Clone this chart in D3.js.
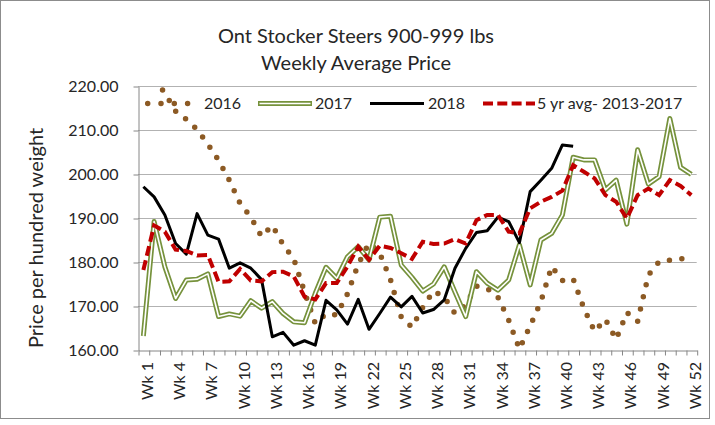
<!DOCTYPE html>
<html>
<head>
<meta charset="utf-8">
<script src="https://cdn.jsdelivr.net/npm/d3@7"></script>
<style>
  body { margin: 0; background: #fff; }
  text { font-family: Lato, "Open Sans", sans-serif; fill: #262626; }
</style>
</head>
<body>
<div id="chart"></div>
<script>

var weeks = ["Wk 1","Wk 2","Wk 3","Wk 4","Wk 5","Wk 6","Wk 7","Wk 8","Wk 9","Wk 10",
	"Wk 11","Wk 12","Wk 13","Wk 14","Wk 15","Wk 16","Wk 17","Wk 18","Wk 19","Wk 20",
	"Wk 21","Wk 22","Wk 23","Wk 24","Wk 25","Wk 26","Wk 27","Wk 28","Wk 29","Wk 30",
	"Wk 31","Wk 32","Wk 33","Wk 34","Wk 35","Wk 36","Wk 37","Wk 38","Wk 39","Wk 40",
	"Wk 41","Wk 42","Wk 43","Wk 44","Wk 45","Wk 46","Wk 47","Wk 48","Wk 49","Wk 50",
	"Wk 51","Wk 52"];

var s2016 = [222.0, 221.7, 218.4, 214.3, 212.4, 210.1, 206.8, 203.1, 198.6, 193.3,
	190.2, 185.8, 188.3, 184.0, 180.7, 173.2, 166.0, 168.2, 168.0, 172.8,
	179.5, 184.3, 182.0, 176.0, 167.5, 165.2, 169.7, 173.4, 172.0, 168.3,
	170.3, 174.5, 174.0, 172.0, 166.8, 160.2, 165.5, 171.0, 179.0, 175.8,
	176.2, 169.5, 164.2, 167.0, 162.4, 168.5, 166.5, 177.0, 180.1, 180.4,
	180.7, 181.0];

var s2017 = [163.2, 189.2, 178.9, 171.7, 175.9, 176.1, 177.3, 167.6, 168.2, 167.7,
	171.2, 169.5, 171.0, 168.3, 166.4, 166.2, 172.9, 178.8, 176.3, 181.2,
	183.5, 180.5, 190.2, 190.4, 179.3, 176.5, 173.4, 175.0, 178.9, 173.2,
	167.6, 177.8, 175.2, 173.6, 175.9, 183.9, 174.8, 185.0, 186.5, 190.7,
	203.8, 203.2, 203.2, 196.4, 198.6, 188.6, 205.5, 197.7, 199.4, 212.6,
	201.5, 199.9];

var s2018 = [197.1, 194.8, 190.7, 184.2, 181.8, 191.0, 186.1, 185.2, 178.6, 179.8,
	178.6, 176.0, 163.0, 164.0, 161.1, 162.1, 161.1, 171.3, 169.1, 165.9,
	171.5, 164.7, 168.3, 172.0, 169.8, 172.2, 168.4, 169.2, 171.4, 178.6,
	183.1, 186.7, 187.1, 190.2, 189.2, 184.4, 196.0, 198.6, 201.3, 206.6,
	206.3];

var avg5 = [178.2, 188.3, 186.9, 182.8, 182.5, 181.5, 181.6, 175.5, 175.6, 178.4,
	175.8, 175.6, 177.7, 177.8, 176.7, 172.1, 171.5, 175.2, 175.2, 179.0,
	183.5, 180.5, 183.7, 183.2, 182.0, 180.7, 184.6, 184.1, 184.2, 185.2,
	184.2, 189.5, 190.7, 190.7, 186.9, 186.5, 192.2, 193.7, 194.8, 196.2,
	202.0, 200.5, 199.0, 195.2, 193.7, 189.9, 195.2, 196.7, 195.2, 198.6,
	197.3, 195.2];

var yTicks = [160, 170, 180, 190, 200, 210, 220];
var seriesNames = ["2016", "2017", "2018", "5 yr avg- 2013-2017"];

var width = 715;
var height = 425;
var plotLeft = 138, plotRight = 696.7, plotTop = 86, plotBottom = 350;

var olive = "#76923c";
var brown = "#8c5a24";
var red = "#c00000";
var axisGrey = "#868686";

var svg = d3.select("#chart")
	.append("svg")
	.attr("width", width)
	.attr("height", height);

// chart border
svg.append("rect")
	.attr("x", 0.5).attr("y", 0.5)
	.attr("width", 709).attr("height", 418)
	.attr("fill", "#fff")
	.attr("stroke", "#8c8c8c")
	.attr("stroke-width", 1);

var x = d3.scaleBand().domain(weeks).range([plotLeft, plotRight]).padding(0);
var xEdge = d3.scaleLinear().domain([0, weeks.length]).range([plotLeft, plotRight]);
var y = d3.scaleLinear().domain([160, 220]).range([plotBottom, plotTop]);

function xc(i) { return x(weeks[i]) + x.bandwidth() / 2; }

// title
svg.append("text")
	.attr("x", 356).attr("y", 43)
	.attr("text-anchor", "middle")
	.style("font-size", "20px")
	.text("Ont Stocker Steers 900-999 lbs");
svg.append("text")
	.attr("x", 356).attr("y", 70)
	.attr("text-anchor", "middle")
	.style("font-size", "20px")
	.text("Weekly Average Price");

// gridlines
svg.append("g")
	.selectAll("line")
	.data(yTicks.filter(function(d) { return d > 160; }))
	.join("line")
	.attr("x1", plotLeft).attr("x2", plotRight)
	.attr("y1", function(d) { return Math.round(y(d)) + 0.5; })
	.attr("y2", function(d) { return Math.round(y(d)) + 0.5; })
	.attr("stroke", "#b2b2b2")
	.attr("stroke-width", 1);

// y axis
var yAxis = d3.axisLeft(y)
	.tickValues(yTicks)
	.tickFormat(d3.format(".2f"))
	.tickSize(5)
	.tickSizeOuter(0)
	.tickPadding(15);

var yg = svg.append("g")
	.attr("transform", "translate(" + (plotLeft + 0.5) + ",0.5)")
	.call(yAxis);
yg.select(".domain").attr("stroke", axisGrey);
yg.selectAll(".tick line").attr("stroke", axisGrey);
yg.selectAll(".tick text")
	.style("font-size", "16px")
	.style("font-family", "Lato")
	.attr("fill", "#262626");

// x axis: tick marks between categories
var xAxis = d3.axisBottom(xEdge)
	.tickValues(d3.range(0, weeks.length + 1))
	.tickFormat("")
	.tickSize(5)
	.tickSizeOuter(0);

var xg = svg.append("g")
	.attr("transform", "translate(0.5," + (plotBottom + 0.5) + ")")
	.call(xAxis);
xg.select(".domain").attr("stroke", axisGrey);
xg.selectAll(".tick line").attr("stroke", axisGrey);

// x labels, every third week
svg.append("g")
	.selectAll("text")
	.data(weeks.filter(function(d, i) { return i % 3 === 0; }))
	.join("text")
	.attr("transform", function(d) {
		return "translate(" + (x(d) + x.bandwidth() / 2) + "," + 362 + ") rotate(-90)";
	})
	.attr("text-anchor", "end")
	.attr("dy", "0.6em")
	.style("font-size", "16px")
	.text(function(d) { return d; });

// y title
svg.append("text")
	.attr("transform", "translate(36," + 238 + ") rotate(-90)")
	.attr("text-anchor", "middle")
	.attr("dy", "0.35em")
	.style("font-size", "20px")
	.text("Price per hundred weight");

// series
svg.append("clipPath").attr("id", "plotclip")
	.append("rect")
	.attr("x", plotLeft).attr("y", 84.5)
	.attr("width", plotRight - plotLeft).attr("height", 272);

var plot = svg.append("g").attr("clip-path", "url(#plotclip)");

var line = d3.line()
	.defined(function(d) { return d != null; })
	.x(function(d, i) { return xc(i); })
	.y(function(d) { return y(d); });

plot.append("path")
	.attr("d", line(s2016))
	.attr("fill", "none")
	.attr("stroke", brown)
	.attr("stroke-width", 5.5)
	.attr("stroke-linecap", "round")
	.attr("stroke-dasharray", "0,12.5");

plot.append("path")
	.attr("d", line(s2017))
	.attr("fill", "none")
	.attr("stroke", olive)
	.attr("stroke-width", 5)
	.attr("stroke-linejoin", "round");
plot.append("path")
	.attr("d", line(s2017))
	.attr("fill", "none")
	.attr("stroke", "#fff")
	.attr("stroke-width", 1.6)
	.attr("stroke-linejoin", "round");

plot.append("path")
	.attr("d", line(s2018))
	.attr("fill", "none")
	.attr("stroke", "#000")
	.attr("stroke-width", 3)
	.attr("stroke-linejoin", "round");

plot.append("path")
	.attr("d", line(avg5))
	.attr("fill", "none")
	.attr("stroke", red)
	.attr("stroke-width", 4)
	.attr("stroke-dasharray", "10,4.5");

// legend
var ly = 103.5;
var legend = svg.append("g");
var samples = [
	{ x0: 147.7, x1: 199, tx: 204 },
	{ x0: 258, x1: 312, tx: 315 },
	{ x0: 370, x1: 424, tx: 428 },
	{ x0: 483, x1: 535, tx: 537 }
];

legend.append("line")
	.attr("x1", samples[0].x0).attr("x2", samples[0].x1)
	.attr("y1", ly).attr("y2", ly)
	.attr("stroke", brown).attr("stroke-width", 5.5)
	.attr("stroke-linecap", "round")
	.attr("stroke-dasharray", "0,13.3");

legend.append("line")
	.attr("x1", samples[1].x0).attr("x2", samples[1].x1)
	.attr("y1", ly).attr("y2", ly)
	.attr("stroke", olive).attr("stroke-width", 5);
legend.append("line")
	.attr("x1", samples[1].x0 + 1.5).attr("x2", samples[1].x1 - 1.5)
	.attr("y1", ly).attr("y2", ly)
	.attr("stroke", "#fff").attr("stroke-width", 1.6);

legend.append("line")
	.attr("x1", samples[2].x0).attr("x2", samples[2].x1)
	.attr("y1", ly).attr("y2", ly)
	.attr("stroke", "#000").attr("stroke-width", 3);

legend.append("line")
	.attr("x1", samples[3].x0).attr("x2", samples[3].x1)
	.attr("y1", ly).attr("y2", ly)
	.attr("stroke", red).attr("stroke-width", 4)
	.attr("stroke-dasharray", "10,4.3");

legend.selectAll("text.lab")
	.data(seriesNames)
	.join("text")
	.attr("class", "lab")
	.attr("x", function(d, i) { return samples[i].tx; })
	.attr("y", ly)
	.attr("dy", "0.36em")
	.style("font-size", "16px")
	.text(function(d) { return d; });

</script>
</body>
</html>
